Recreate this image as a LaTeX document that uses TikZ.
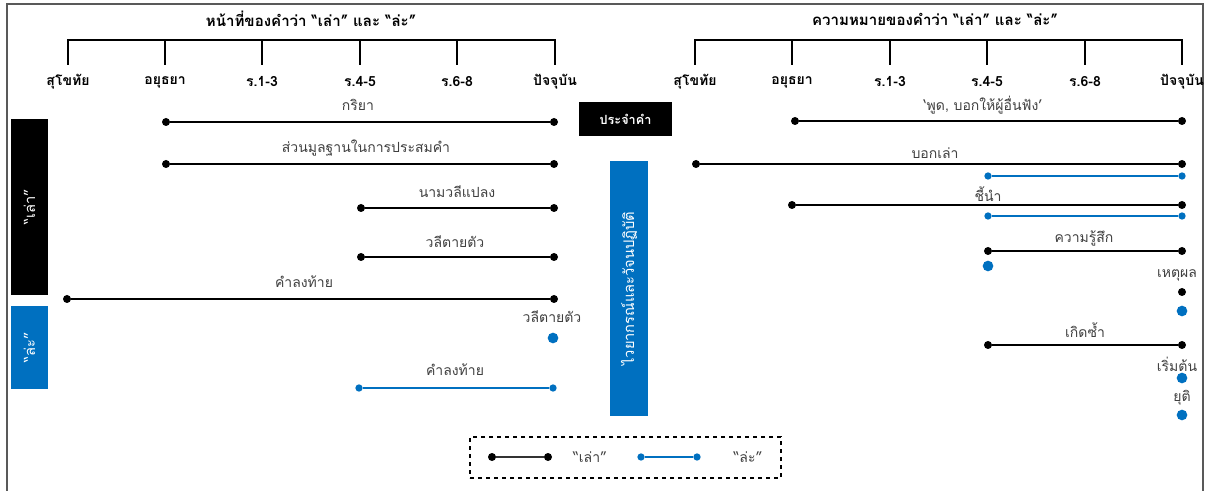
\documentclass[tikz,border=0pt]{standalone}
\usepackage{fontspec}
\setmainfont[Script=Thai]{Loma}
\definecolor{myblue}{HTML}{0070C0}
\definecolor{frame}{HTML}{595959}
\definecolor{lbl}{HTML}{404040}
\begin{document}
\begin{tikzpicture}[x=0.75pt,y=-0.75pt,
  bdot/.style={circle,fill=black,inner sep=0pt,minimum size=6pt},
  udot/.style={circle,fill=myblue,inner sep=0pt,minimum size=5.5pt},
  bigdot/.style={circle,fill=myblue,inner sep=0pt,minimum size=8pt},
  bline/.style={line width=1.1pt,black},
  uline/.style={line width=1.1pt,myblue},
  lab/.style={text=lbl,font=\fontsize{10.5}{12}\selectfont,inner sep=1pt},
  axl/.style={font=\bfseries\fontsize{10.5}{12}\selectfont,inner sep=1pt},
  ttl/.style={font=\bfseries\fontsize{11.3}{13}\selectfont,inner sep=1pt},
  brk/.style={line width=1.5pt,black},
  vbox/.style={inner sep=0pt,text=white,font=\fontsize{11}{13}\selectfont}]
\useasboundingbox (0,0) rectangle (1206,491);
\fill[white] (0,0) rectangle (1206,491);
\draw[frame,line width=1.4pt] (7,491) -- (7,4) -- (1203,4) -- (1203,491);

% ---- left timeline
\node[ttl] (ttlL) at (311,19) {หน้าที่ของคำว่า “เล่า” และ “ล่ะ”};
\foreach \n/\x/\t in {l1/68/สุโขทัย,l2/165/อยุธยา,l3/262/ร.1-3,l4/360/ร.4-5,l5/457/ร.6-8,l6/555/ปัจจุบัน}{
  \coordinate (\n t) at (\x,40);
  \coordinate (\n b) at (\x,65);
  \draw[brk] (\n t) -- (\n b);
  \node[axl] (\n) at (\x,82) {\t};
}
\draw[brk] ([xshift=-0.75pt]l1t) -- ([xshift=0.75pt]l6t);

% ---- right timeline
\node[ttl] (ttlR) at (935,19) {ความหมายของคำว่า “เล่า” และ “ล่ะ”};
\foreach \n/\x/\t in {r1/695/สุโขทัย,r2/792/อยุธยา,r3/890/ร.1-3,r4/987/ร.4-5,r5/1085/ร.6-8,r6/1182/ปัจจุบัน}{
  \coordinate (\n t) at (\x,40);
  \coordinate (\n b) at (\x,65);
  \draw[brk] (\n t) -- (\n b);
  \node[axl] (\n) at (\x,82) {\t};
}
\draw[brk] ([xshift=-0.75pt]r1t) -- ([xshift=0.75pt]r6t);

% ---- left side boxes
\node[fill=black,minimum width=37*0.75pt,minimum height=176*0.75pt,inner sep=0pt] (boxL) at (29.5,207) {};
\node[vbox,rotate=90] (boxLt) at (boxL.center) {“เล่า”};
\node[fill=myblue,minimum width=37*0.75pt,minimum height=83*0.75pt,inner sep=0pt] (boxS) at (29.5,347.5) {};
\node[vbox,rotate=90] (boxSt) at (boxS.center) {“ล่ะ”};

% ---- middle boxes
\node[fill=black,text=white,minimum width=93*0.75pt,minimum height=34*0.75pt,inner sep=0pt,font=\bfseries\fontsize{9.5}{12}\selectfont] (pc) at (625.5,119) {ประจำคำ};
\node[fill=myblue,minimum width=38*0.75pt,minimum height=255*0.75pt,inner sep=0pt] (gp) at (629,288.5) {};
\node[vbox,rotate=90] (gpt) at (gp.center) {ไวยากรณ์และวัจนปฏิบัติ};

% ---- left lines
\node[bdot] (a1) at (166,122) {}; \node[bdot] (a2) at (554,122) {};
\draw[bline] (a1) -- (a2);
\node[lab] (la) at (358,105) {กริยา};

\node[bdot] (b1) at (166,164) {}; \node[bdot] (b2) at (554,164) {};
\draw[bline] (b1) -- (b2);
\node[lab] (lb) at (366,148) {ส่วนมูลฐานในการประสมคำ};

\node[bdot] (c1) at (361,208) {}; \node[bdot] (c2) at (554,208) {};
\draw[bline] (c1) -- (c2);
\node[lab] (lc) at (457,192) {นามวลีแปลง};

\node[bdot] (d1) at (361,257) {}; \node[bdot] (d2) at (554,257) {};
\draw[bline] (d1) -- (d2);
\node[lab] (ld) at (455,242) {วลีตายตัว};

\node[bdot] (e1) at (67,299) {}; \node[bdot] (e2) at (554,299) {};
\draw[bline] (e1) -- (e2);
\node[lab] (le) at (304,282) {คำลงท้าย};

\node[lab] (lf) at (552,317) {วลีตายตัว};
\node[bigdot] (f1) at (553,338) {};

\node[udot] (g1) at (359,388) {}; \node[udot] (g2) at (553,388) {};
\draw[uline] (g1) -- (g2);
\node[lab] (lg) at (455,370) {คำลงท้าย};

% ---- right lines
\node[bdot] (h1) at (795,121) {}; \node[bdot] (h2) at (1182,121) {};
\draw[bline] (h1) -- (h2);
\node[lab] (lh) at (983,105) {‘พูด, บอกให้ผู้อื่นฟัง’};

\node[bdot] (i1) at (696,164) {}; \node[bdot] (i2) at (1182,164) {};
\draw[bline] (i1) -- (i2);
\node[lab] (li) at (935,153) {บอกเล่า};
\node[udot] (j1) at (988,176) {}; \node[udot] (j2) at (1182,176) {};
\draw[uline] (j1) -- (j2);

\node[bdot] (k1) at (792,205) {}; \node[bdot] (k2) at (1182,205) {};
\draw[bline] (k1) -- (k2);
\node[lab] (lk) at (988,194) {ชี้นำ};
\node[udot] (m1) at (988,216) {}; \node[udot] (m2) at (1182,216) {};
\draw[uline] (m1) -- (m2);

\node[bdot] (n1) at (988,251) {}; \node[bdot] (n2) at (1182,251) {};
\draw[bline] (n1) -- (n2);
\node[lab] (ln) at (1084,238) {ความรู้สึก};
\node[bigdot] (n3) at (988,266) {};

\node[lab] (lo) at (1177,275) {เหตุผล};
\node[bdot] (o1) at (1182,292) {};
\node[bigdot] (o2) at (1182,311) {};

\node[bdot] (p1) at (988,345) {}; \node[bdot] (p2) at (1182,345) {};
\draw[bline] (p1) -- (p2);
\node[lab] (lp) at (1085,330) {เกิดซ้ำ};

\node[lab] (lq) at (1177,364) {เริ่มต้น};
\node[bigdot] (q1) at (1182,378) {};

\node[lab] (lr) at (1182,398) {ยุติ};
\node[bigdot] (r1d) at (1182,415) {};

% ---- legend
\node[draw,dashed,line width=0.8pt,minimum width=311*0.75pt,minimum height=41*0.75pt,inner sep=0pt] (leg) at (625.5,457.5) {};
\node[bdot] (s1) at (492,457) {}; \node[bdot] (s2) at (548,457) {};
\draw[line width=1pt,black!80] (s1) -- (s2);
\node[lab] (ls) at (590,457) {“เล่า”};
\node[udot] (t1) at (641,457) {}; \node[udot] (t2) at (697,457) {};
\draw[line width=1pt,myblue] (t1) -- (t2);
\node[lab] (lt) at (748,457) {“ล่ะ”};
\end{tikzpicture}
\end{document}
